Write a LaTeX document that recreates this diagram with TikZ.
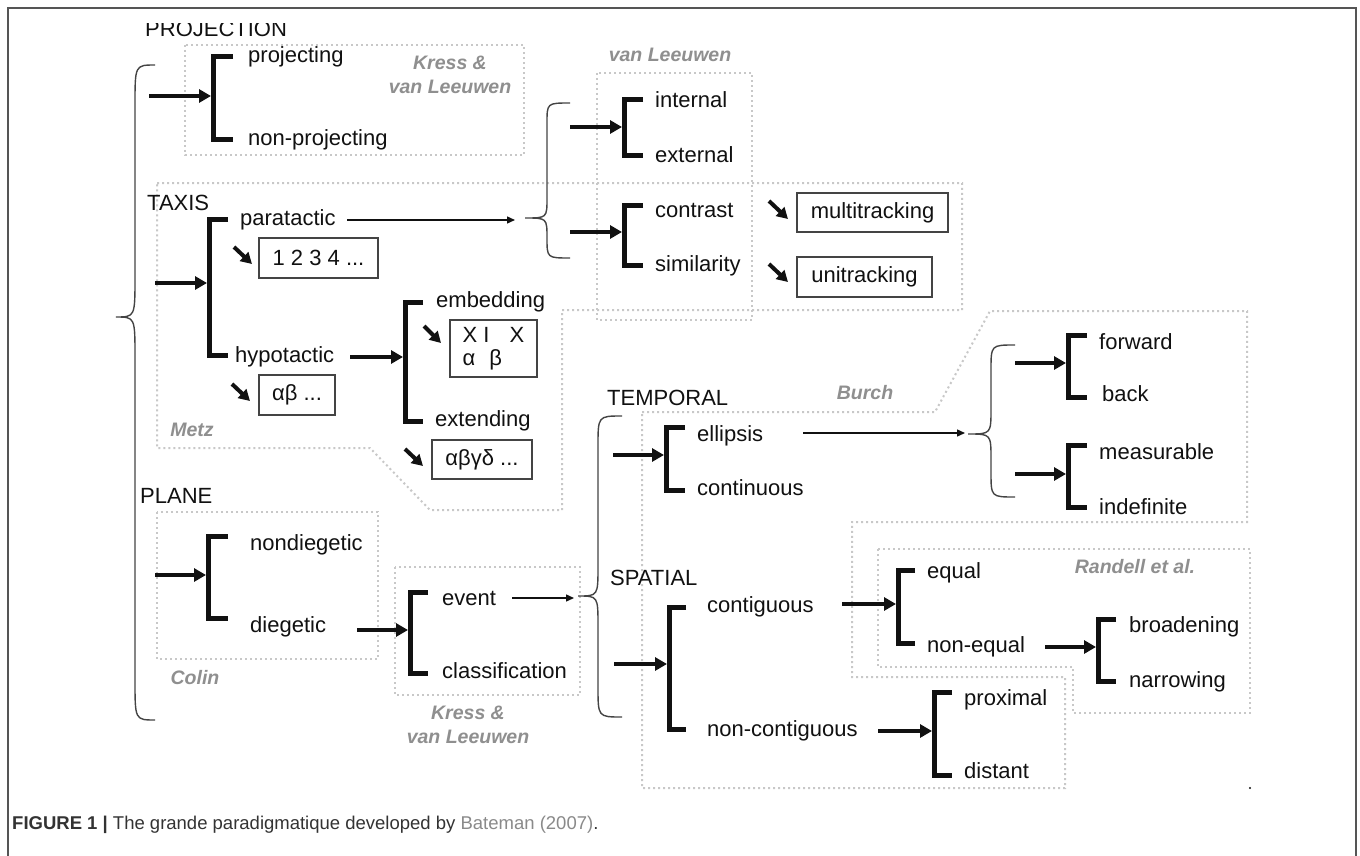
\documentclass[tikz,border=0pt]{standalone}
\usepackage{fontspec}
\setmainfont{Liberation Sans}
\usetikzlibrary{arrows.meta}
\definecolor{dotgray}{HTML}{C8C8C8}
\definecolor{lblgray}{HTML}{8F8F8F}
\definecolor{bracegray}{HTML}{444444}
\definecolor{boxgray}{HTML}{444444}
\definecolor{framegray}{HTML}{555555}
\definecolor{ink}{HTML}{111111}
\definecolor{capdark}{HTML}{333333}
\definecolor{caplink}{HTML}{8A8A8A}
% bracket: name, x, ytop, ybot, xtick
\newcommand\brkt[5]{%
  \coordinate (#1-t) at (#5,#3);
  \coordinate (#1-b) at (#5,#4);
  \draw[bracket] (#1-t) -- (#2,#3) -- (#2,#4) -- (#1-b);}
% connector: style, name, x1, y1, x2, y2
\newcommand\conn[6]{%
  \coordinate (#2-s) at (#3,#4);
  \coordinate (#2-e) at (#5,#6);
  \draw[#1] (#2-s) -- (#2-e);}
% curly brace: name, xend, ytop, xv, xtip, ytip, ybot, R
\newcommand\cbrace[8]{%
  \coordinate (#1-top) at (#2,#3);
  \coordinate (#1-tip) at (#5,#6);
  \coordinate (#1-bot) at (#2,#7);
  \draw[bracestyle] (#1-top) .. controls (#4,#3) .. (#4,{#3+#8})
    -- (#4,{#6-#8}) .. controls (#4,#6) .. (#1-tip)
    .. controls (#4,#6) .. (#4,{#6+#8})
    -- (#4,{#7-#8}) .. controls (#4,#7) .. (#1-bot);}
\begin{document}
\begin{tikzpicture}[x=1pt,y=-1pt,
  lbl/.style={anchor=west,inner sep=0pt,text height=16pt,text depth=5pt,font=\fontsize{22}{26}\selectfont,text=ink},
  glbl/.style={align=center,inner sep=0pt,font=\fontsize{19.5}{24}\selectfont\bfseries\itshape,text=lblgray},
  boxed/.style={draw=boxgray,line width=1.3pt,inner sep=0pt,font=\fontsize{22}{23}\selectfont,text=ink},
  dotbox/.style={draw=dotgray,line width=2pt,dash pattern=on 2pt off 3pt},
  bracket/.style={draw=ink,line width=5pt,line cap=butt,line join=miter},
  thickarr/.style={draw=ink,line width=4.5pt,-{Triangle[length=12pt,width=13pt]}},
  thinarr/.style={draw=ink,line width=1.4pt,-{Triangle[length=8pt,width=7pt]}},
  diagarr/.style={draw=ink,line width=4pt,-{Triangle[length=11pt,width=12pt]}},
  bracestyle/.style={draw=bracegray,line width=1.4pt},
]
\useasboundingbox (0,0) rectangle (1360,856);
\fill[white] (0,0) rectangle (1360,856);

% dotted boxes
\draw[dotbox] (185,45) rectangle (524,155);
\draw[dotbox] (157,183) -- (962,183) -- (962,310) -- (562,310) -- (562,510) -- (430,510) -- (370,448) -- (157,448) -- cycle;
\draw[dotbox] (597,73) rectangle (752,320);
\draw[dotbox] (157,512) rectangle (378,659);
\draw[dotbox] (395,567) rectangle (580,695);
\draw[dotbox] (642,412) -- (935,412) -- (990,311) -- (1247,311) -- (1247,522) -- (852,522) -- (852,677) -- (1065,677) -- (1065,788) -- (642,788) -- cycle;
\draw[dotbox] (878,549) -- (1250,549) -- (1250,713) -- (1073,713) -- (1073,667) -- (878,667) -- cycle;

% frame
\draw[framegray,line width=2pt] (8,856) -- (8,8) -- (1356,8) -- (1356,856);

% gray author labels
\node[glbl] (kressA) at (450,75) {Kress \&\\van Leeuwen};
\node[glbl] (vanL) at (670,55) {van Leeuwen};
\node[glbl] (metz) at (192,430) {Metz};
\node[glbl] (colin) at (195,678) {Colin};
\node[glbl] (kressB) at (468,725) {Kress \&\\van Leeuwen};
\node[glbl] (burch) at (865,393) {Burch};
\node[glbl] (randell) at (1135,567) {Randell et al.};

% titles
\begin{scope}
\clip (0,24) rectangle (400,60);
\node[lbl] (projection) at (145,31.5) {PROJECTION};
\end{scope}
\node[lbl] (taxis) at (147,205) {TAXIS};
\node[lbl] (plane) at (140,498) {PLANE};
\node[lbl] (temporal) at (607,400) {TEMPORAL};
\node[lbl] (spatial) at (610,580) {SPATIAL};

% braces
\cbrace{bigb}{155}{65}{135}{116}{317}{720}{40}
\cbrace{parb}{570}{103}{547}{525}{218}{258}{20}
\cbrace{tsb}{622}{416}{598}{578}{596}{717}{30}
\cbrace{elb}{1015}{345}{991}{968}{434}{497}{25}

% brackets
\brkt{pj}{213}{57}{140}{233}
\brkt{tx}{209}{219}{355}{228}
\brkt{em}{405}{302}{421}{423}
\brkt{ie}{624}{100}{156}{643}
\brkt{cs}{624}{205}{265}{643}
\brkt{pl}{208}{536}{618}{228}
\brkt{ev}{410}{592}{673}{428}
\brkt{te}{666}{427}{490}{685}
\brkt{fb}{1068}{335}{397}{1087}
\brkt{mi}{1068}{445}{507}{1087}
\brkt{sp}{669}{607}{729}{686}
\brkt{eq}{898}{570}{643}{915}
\brkt{br}{1098}{619}{681}{1116}
\brkt{px}{934}{692}{775}{952}

% thick arrows
\conn{thickarr}{apj}{149}{96}{211}{96}
\conn{thickarr}{atx}{155}{283}{207}{283}
\conn{thickarr}{ahy}{350}{357}{403}{357}
\conn{thickarr}{aie}{570}{127}{622}{127}
\conn{thickarr}{acs}{570}{232}{622}{232}
\conn{thickarr}{apl}{155}{575}{206}{575}
\conn{thickarr}{adg}{357}{630}{408}{630}
\conn{thickarr}{ate}{613}{455}{664}{455}
\conn{thickarr}{afb}{1015}{363}{1066}{363}
\conn{thickarr}{ami}{1015}{474}{1066}{474}
\conn{thickarr}{asp}{614}{664}{667}{664}
\conn{thickarr}{acg}{842}{604}{896}{604}
\conn{thickarr}{ane}{1045}{647}{1096}{647}
\conn{thickarr}{anc}{878}{731}{932}{731}

% thin arrows
\conn{thinarr}{tpar}{347}{220}{515}{220}
\conn{thinarr}{tell}{803}{433}{965}{433}
\conn{thinarr}{tev}{512}{598}{574}{598}

% diagonal arrows
\conn{diagarr}{d1}{234}{247}{252}{264}
\conn{diagarr}{d2}{232}{384}{250}{401}
\conn{diagarr}{d3}{424}{326}{441}{343}
\conn{diagarr}{d4}{405}{449}{423}{466}
\conn{diagarr}{d5}{769}{201}{788}{219}
\conn{diagarr}{d6}{769}{264}{788}{282}

% labels
\node[lbl] (projecting) at (248,57) {projecting};
\node[lbl] (nonprojecting) at (248,140) {non-projecting};
\node[lbl] (paratactic) at (240,220) {paratactic};
\node[lbl] (hypotactic) at (235,357) {hypotactic};
\node[lbl] (embedding) at (436,302) {embedding};
\node[lbl] (extending) at (435,421) {extending};
\node[lbl] (internal) at (655,102) {internal};
\node[lbl] (external) at (655,157) {external};
\node[lbl] (contrast) at (655,212) {contrast};
\node[lbl] (similarity) at (655,266) {similarity};
\node[lbl] (nondiegetic) at (250,545) {nondiegetic};
\node[lbl] (diegetic) at (250,627) {diegetic};
\node[lbl] (event) at (442,600) {event};
\node[lbl] (classification) at (442,673) {classification};
\node[lbl] (ellipsis) at (697,436) {ellipsis};
\node[lbl] (continuous) at (697,490) {continuous};
\node[lbl] (forward) at (1099,344) {forward};
\node[lbl] (back) at (1102,396) {back};
\node[lbl] (measurable) at (1099,454) {measurable};
\node[lbl] (indefinite) at (1099,509) {indefinite};
\node[lbl] (contiguous) at (707,607) {contiguous};
\node[lbl] (noncontiguous) at (707,731) {non-contiguous};
\node[lbl] (equal) at (927,573) {equal};
\node[lbl] (nonequal) at (927,647) {non-equal};
\node[lbl] (broadening) at (1129,627) {broadening};
\node[lbl] (narrowing) at (1129,682) {narrowing};
\node[lbl] (proximal) at (964,700) {proximal};
\node[lbl] (distant) at (964,773) {distant};

% boxed examples
\node[boxed,minimum width=119pt,minimum height=40pt] (b1234) at (318.5,258) {1 2 3 4 ...};
\node[boxed,minimum width=76pt,minimum height=40pt] (bab) at (297,395) {αβ ...};
\node[boxed,minimum width=87pt,minimum height=57pt,align=left] (bxix) at (493.5,348.5) {X I\hspace{14pt} X\\α\hspace{8pt} β};
\node[boxed,minimum width=100pt,minimum height=39pt] (babgd) at (482,459.5) {αβγδ ...};
\node[boxed,minimum width=151pt,minimum height=39pt] (bmulti) at (872.5,212.5) {multitracking};
\node[boxed,minimum width=135pt,minimum height=40pt] (buni) at (864.5,277) {unitracking};

% stray dot
\fill[ink] (1250,788) circle (1.2pt);

% caption
\node[anchor=base west,inner sep=0pt,font=\fontsize{18.5}{22}\selectfont,text=capdark] (caption) at (12,829)
  {\textbf{FIGURE 1 |} The grande paradigmatique developed by {\color{caplink}Bateman (2007)}.};
\end{tikzpicture}
\end{document}
